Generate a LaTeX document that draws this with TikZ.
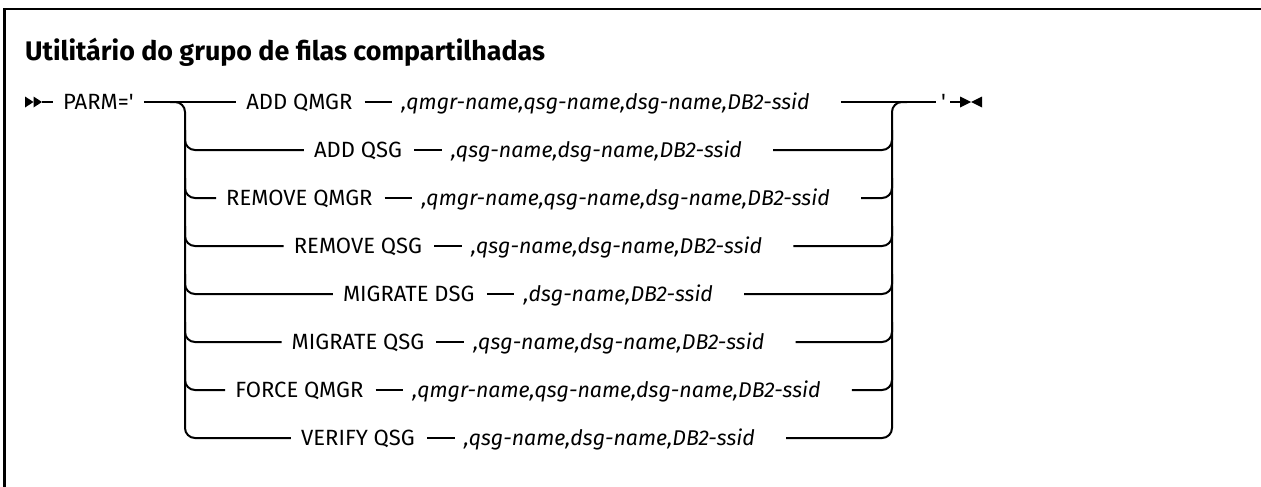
\documentclass[tikz,border=0pt]{standalone}
\usepackage{fontspec}
\setmainfont{Fira Sans}
\usetikzlibrary{calc}
\newlength\tmplen
\def\kwsize{20}
\def\parsize{20}
\def\ttlsize{23}
\newcommand\measure{%
  \settowidth\tmplen{\fontsize{10}{12}\selectfont ADD QSG}%
  \pgfmathsetmacro\tmpa{10*88/\tmplen}\global\let\kwsize\tmpa
  \settowidth\tmplen{\fontsize{10}{12}\selectfont\itshape ,qsg-name,dsg-name,DB2-ssid}%
  \pgfmathsetmacro\tmpa{10*291/\tmplen}\global\let\parsize\tmpa
  \settowidth\tmplen{\fontsize{10}{12}\selectfont\bfseries Utilitário do grupo de filas comp}%
  \pgfmathsetmacro\tmpa{10*395/\tmplen}\global\let\ttlsize\tmpa
}
\newcommand\kwf{\fontsize{\kwsize}{\kwsize}\selectfont}
\newcommand\parf{\fontsize{\parsize}{\parsize}\selectfont\itshape}
\newcommand\ttlf{\fontsize{\ttlsize}{\ttlsize}\selectfont\bfseries}
\newcommand\sq{\XeTeXglyph\XeTeXcharglyph"0027\relax}
\tikzset{
  rail/.style={line width=2pt},
  kwnode/.style={font=\kwf, inner sep=0pt, anchor=west, text height=14pt, text depth=0pt},
  parnode/.style={font=\parf, inner sep=0pt, anchor=west, text height=14pt, text depth=0pt},
  rowbox/.style={inner sep=0pt, text height=1pt, text depth=0pt},
  branch/.style={rail, rounded corners=10pt},
  tip/.style={fill=black, draw=none}
}
\newcommand\synrow[4]{%
  \node[rowbox] (g#1) at (528,#2) {\phantom{\kwf #3}\hspace{49pt}\phantom{\parf #4}};
  \node[kwnode] (k#1) at (g#1.west) {#3};
  \node[parnode, anchor=east] (p#1) at (g#1.east) {#4};
  \draw[rail] ($(k#1.east)+(12,0)$) -- ($(p#1.west)+(-9,0)$);
}
\begin{document}
\begin{tikzpicture}[x=1pt,y=-1pt]
\useasboundingbox (0,0) rectangle (1261,487);
\node[inner sep=0pt, text height=0pt, text depth=0pt] (meas) at (0,0) {\measure};
% frame
\draw[line width=2.5pt] (1275,9) -- (4.7,9) -- (4.7,500);
% title
\node[anchor=base west, font=\ttlf, inner sep=0pt] (title) at (25,60) {Utilitário do grupo de filas compartilhadas};
% start
\fill[tip] (25,96.5) -- (33.5,102) -- (25,107.5) -- cycle;
\fill[tip] (33.5,96.5) -- (42,102) -- (33.5,107.5) -- cycle;
\coordinate (st) at (42,102);
\node[kwnode] (parm) at (63,102) {PARM=\sq};
\draw[rail] (st) -- ($(parm.west)+(-10,0)$);
% rows
\synrow{1}{102}{ADD QMGR}{,qmgr-name,qsg-name,dsg-name,DB2-ssid}
\synrow{2}{150}{ADD QSG}{,qsg-name,dsg-name,DB2-ssid}
\synrow{3}{198}{REMOVE QMGR}{,qmgr-name,qsg-name,dsg-name,DB2-ssid}
\synrow{4}{246}{REMOVE QSG}{,qsg-name,dsg-name,DB2-ssid}
\synrow{5}{294}{MIGRATE DSG}{,dsg-name,DB2-ssid}
\synrow{6}{342}{MIGRATE QSG}{,qsg-name,dsg-name,DB2-ssid}
\synrow{7}{390}{FORCE QMGR}{,qmgr-name,qsg-name,dsg-name,DB2-ssid}
\synrow{8}{438}{VERIFY QSG}{,qsg-name,dsg-name,DB2-ssid}
% end token
\node[kwnode] (q) at (941,102) {\sq};
% branches
\coordinate (jl) at (185,102);
\coordinate (jr) at (892,102);
\draw[rail] ($(parm.east)+(10,0)$) -- ($(k1.west)+(-10,0)$);
\draw[branch] ($(jl)+(-15,0)$) -- (jl) -- (185,438) -- ($(k8.west)+(-10,0)$);
\foreach \i/\y in {2/150,3/198,4/246,5/294,6/342,7/390}{
  \draw[branch] (185,\y-20) -- (185,\y) -- ($(k\i.west)+(-10,0)$);
  \draw[branch] ($(p\i.east)+(31,0)$) -- (892,\y) -- (892,\y-20);
}
\draw[branch] ($(p8.east)+(31,0)$) -- (892,438) -- (jr) -- ($(jr)+(15,0)$);
\draw[rail] ($(p1.east)+(31,0)$) -- ($(q.west)+(-5,0)$);
% end
\coordinate (en) at (960,102);
\draw[rail] ($(q.east)+(4,0)$) -- (en);
\fill[tip] (960,96.5) -- (971,102) -- (960,107.5) -- cycle;
\fill[tip] (982,96.5) -- (971,102) -- (982,107.5) -- cycle;
\end{tikzpicture}
\end{document}
